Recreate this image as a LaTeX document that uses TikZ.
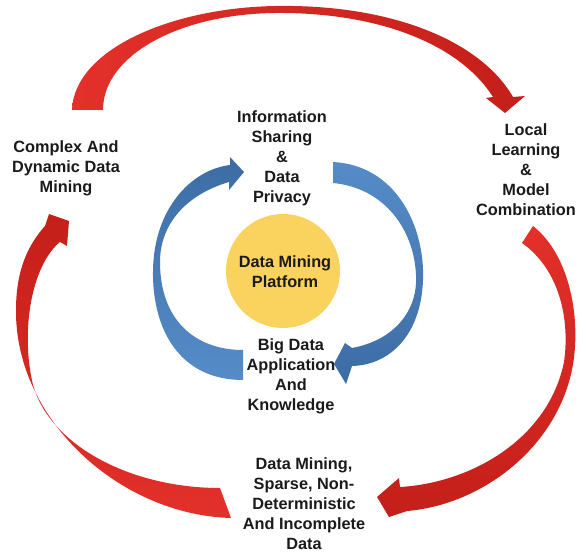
\documentclass[tikz,border=0pt]{standalone}
\usepackage{fontspec}
\setmainfont{Liberation Sans}
\definecolor{rothell}{HTML}{E3302A}
\definecolor{rotdunkel}{HTML}{C41F1A}
\definecolor{blauhell}{HTML}{558CC8}
\definecolor{blaudunkel}{HTML}{3D6CA4}
\definecolor{kreisgelb}{HTML}{FAD35E}
\definecolor{schrift}{HTML}{1A1A1A}

\begin{document}
\begin{tikzpicture}[x=1pt,y=-1pt,
	txt/.style={align=center,inner sep=0pt,text=schrift,
		font=\bfseries\fontsize{16.3}{20}\selectfont}]
\useasboundingbox (0,0) rectangle (580,553);
\coordinate (k0) at (66,168);
\coordinate (k1) at (282,158);
\coordinate (k2) at (526,170);
\coordinate (k3) at (304,504);
\coordinate (m0) at (283,271);
\coordinate (m1) at (291,376);
% outer ring
\shade[left color=rothell,right color=rotdunkel]
	(72,110) .. controls (74,50) and (170,8) .. (275,6) .. controls (390,4) and (480,40) .. (513,97)
	-- (525,96) -- (505,113) -- (486,98)
	-- (493,97) .. controls (460,45) and (380,12) .. (275,13) .. controls (180,14) and (103,55) .. (103,110) -- cycle;
\shade[top color=rothell,bottom color=rotdunkel]
	(533,226) .. controls (570,255) and (582,320) .. (572,370) .. controls (555,450) and (480,505) .. (407,511)
	-- (389,517) -- (377,497) -- (399,478)
	-- (400,487) .. controls (470,483) and (548,440) .. (564,362) .. controls (570,320) and (560,270) .. (522,243) -- cycle;
\shade[top color=rotdunkel,bottom color=rothell]
	(231,518) .. controls (120,515) and (15,420) .. (16,310) .. controls (16,270) and (28,245) .. (45,226)
	-- (49,214) -- (69,221) -- (67,246)
	-- (60,242) .. controls (32,265) and (20,330) .. (33,385) .. controls (50,445) and (130,488) .. (220,488) -- cycle;
% inner ring
\shade[top color=blaudunkel,bottom color=blauhell]
	(243,380) .. controls (180,380) and (152,330) .. (153,270) .. controls (154,210) and (190,170) .. (230,165)
	-- (230,157) -- (244,172) -- (229,190)
	-- (229,182) .. controls (185,195) and (160,225) .. (160,262) .. controls (160,320) and (195,350) .. (243,350) -- cycle;
\shade[top color=blauhell,bottom color=blaudunkel]
	(333,162) .. controls (395,165) and (425,225) .. (423,280) .. controls (421,335) and (390,365) .. (352,366)
	-- (346,384) -- (334,364) -- (345,343)
	-- (352,348) .. controls (395,340) and (418,310) .. (416,275) .. controls (414,230) and (385,188) .. (333,183) -- cycle;
% centre
\node[circle,fill=kreisgelb,minimum size=114pt,inner sep=0pt] (platform) at (m0) {};
\node[txt] at (285,272) {Data Mining\\Platform};
\node[txt] (komplex) at (k0) {Complex And\\Dynamic Data\\Mining};
\node[txt] (info) at (k1) {Information\\Sharing\\\&\\Data\\Privacy};
\node[txt] (lokal) at (k2) {Local\\Learning\\\&\\Model\\Combination};
\node[txt] (duenn) at (k3) {Data Mining,\\Sparse, Non-\\Deterministic\\And Incomplete\\Data};
\node[txt] (wissen) at (m1) {Big Data\\Application\\And\\Knowledge};
\end{tikzpicture}
\end{document}
